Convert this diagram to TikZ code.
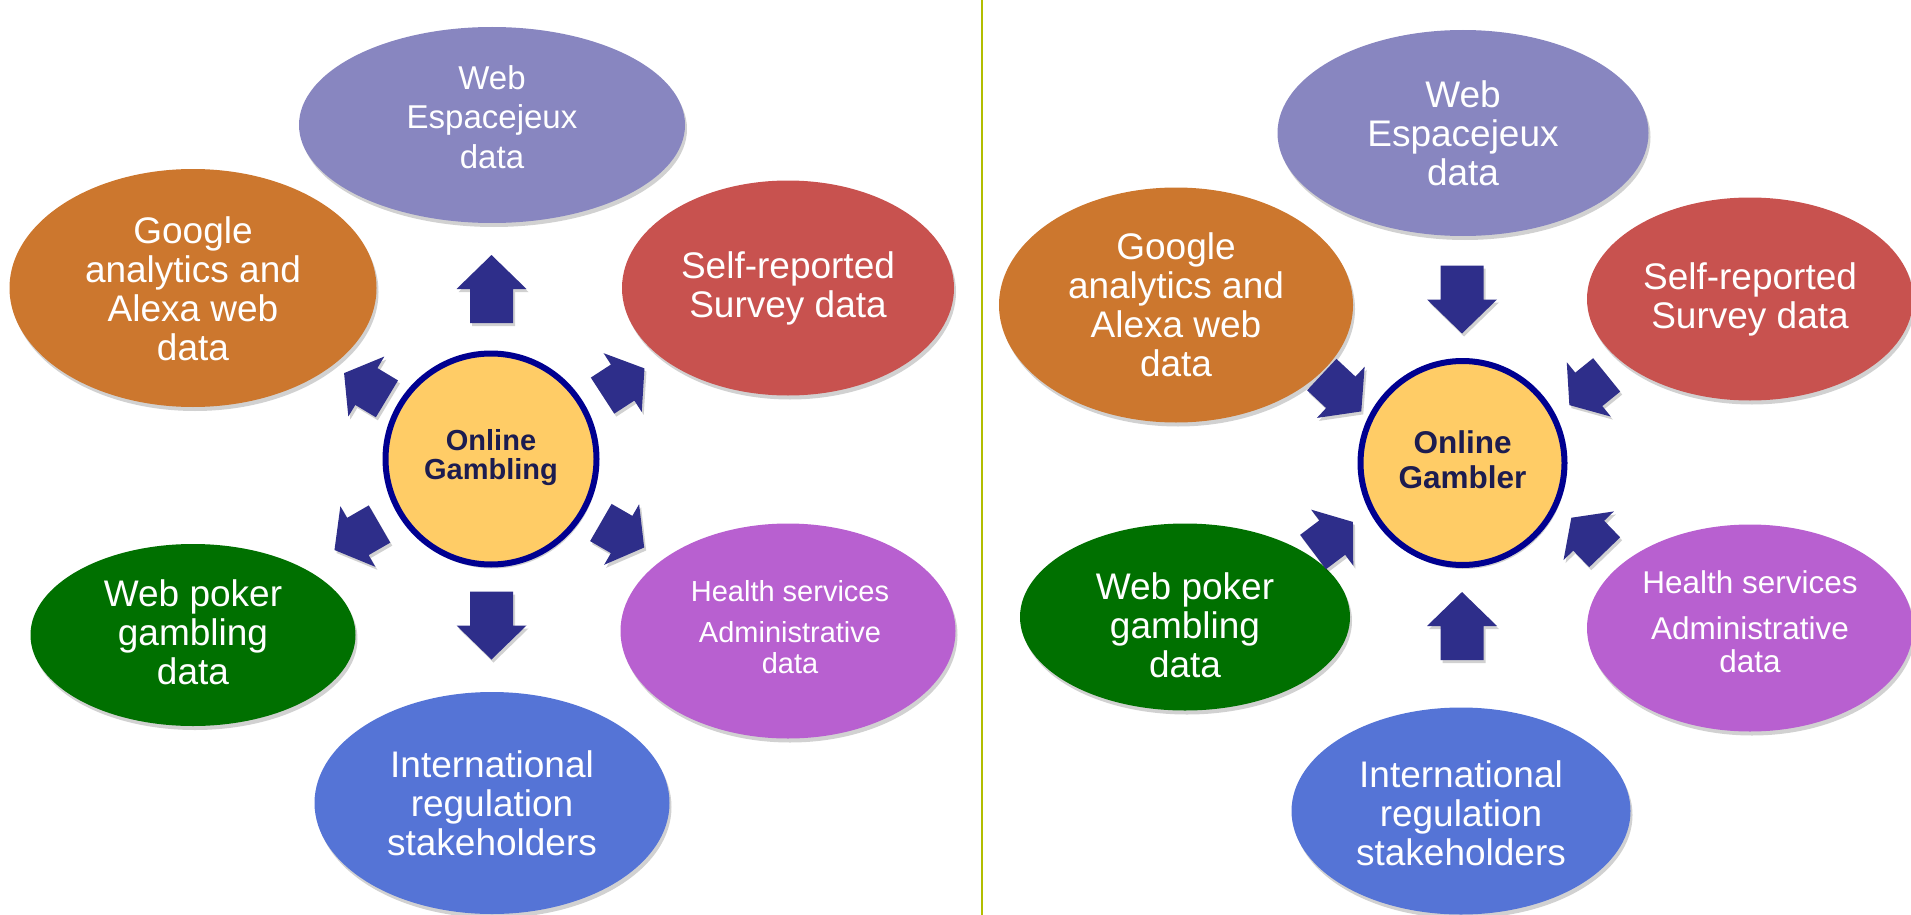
\documentclass[tikz,border=0pt]{standalone}
\usepackage{fontspec}
\setmainfont{Liberation Sans}
\usetikzlibrary{shapes.geometric,shadows}
\definecolor{cweb}{RGB}{136,134,192}
\definecolor{cgoo}{RGB}{204,119,46}
\definecolor{cself}{RGB}{200,82,79}
\definecolor{cpok}{RGB}{0,112,0}
\definecolor{chea}{RGB}{184,96,208}
\definecolor{cint}{RGB}{85,116,214}
\definecolor{ccen}{RGB}{255,204,102}
\definecolor{cbord}{RGB}{0,0,144}
\definecolor{carr}{RGB}{46,46,138}
\definecolor{ctxt}{RGB}{28,28,80}
\definecolor{cdiv}{RGB}{178,190,0}
\tikzset{
  blob/.style={ellipse, inner sep=0pt, draw=none,
    drop shadow={shadow xshift=2pt, shadow yshift=-4pt, opacity=0.18, fill=black}},
  wtxt/.style={text=white, align=center, inner sep=0pt, font=\fontsize{37}{39}\selectfont},
  hub/.style={circle, fill=ccen, draw=cbord, line width=6pt, inner sep=0pt,
    drop shadow={shadow xshift=2pt, shadow yshift=-4pt, opacity=0.18, fill=black}},
  hubtxt/.style={text=ctxt, align=center, inner sep=0pt},
  arrfill/.style={fill=carr,
    drop shadow={shadow xshift=2pt, shadow yshift=-3pt, opacity=0.18, fill=black}},
}
% straight block arrow: x, y (px, downwards), angle, back offset, head-base offset, tip offset
\newcommand\blockarr[6]{%
  \fill[arrfill, shift={(#1,-#2)}, rotate=#3]
    (#4,-21.5) -- (#5,-21.5) -- (#5,-35) -- (#6,0) -- (#5,35) -- (#5,21.5) -- (#4,21.5) -- cycle;}
\begin{document}
\begin{tikzpicture}[x=1pt,y=1pt]
\useasboundingbox (0,0) rectangle (1911,-915);
% divider
\coordinate (dtop) at (982,0);
\coordinate (dbot) at (982,-915);
\draw[cdiv, line width=2pt] (dtop) -- (dbot);

% ===== Left diagram =====
\node[blob, fill=cweb, minimum width=386, minimum height=196] (lweb) at (492,-125) {};
\node[wtxt, font=\fontsize{33}{39.5}\selectfont] (lwebt) at (492,-117) {Web\\Espacejeux\\data};
\node[blob, fill=cgoo, minimum width=367, minimum height=238] (lgoo) at (193,-288) {};
\node[wtxt] (lgoot) at (193,-289) {Google\\analytics and\\Alexa web\\data};
\node[blob, fill=cself, minimum width=332, minimum height=215] (lself) at (788,-288) {};
\node[wtxt] (lselft) at (788,-288) {Self-reported\\Survey data};
\node[blob, fill=cpok, minimum width=325, minimum height=182] (lpok) at (193,-635) {};
\node[wtxt] (lpokt) at (193,-632) {Web poker\\gambling\\data};
\node[blob, fill=chea, minimum width=335, minimum height=215] (lhea) at (788,-631) {};
\node[wtxt, font=\fontsize{29}{31}\selectfont] (lheat) at (790,-627) {Health services\\[10pt]Administrative\\data};
\node[blob, fill=cint, minimum width=355, minimum height=222] (lint) at (492,-803) {};
\node[wtxt] (lintt) at (492,-803) {International\\regulation\\stakeholders};

\node[hub, minimum size=211] (lhub) at (491,-459) {};
\node[hubtxt, font=\bfseries\fontsize{29}{29}\selectfont] (lhubt) at (491,-458) {Online\\Gambling};

\blockarr{491.5}{289}{90}{-34}{0}{34}
\blockarr{491.5}{625.5}{270}{-34}{0}{34}
\blockarr{365.5}{386}{149}{-25}{-1}{25}
\blockarr{623.5}{382}{33}{-25}{-1}{25}
\blockarr{357}{537}{210}{-26}{-1}{26}
\blockarr{622.5}{535}{330}{-25}{-1}{25}

% ===== Right diagram =====
\node[blob, fill=cweb, minimum width=371, minimum height=206] (rweb) at (1463,-133) {};
\node[wtxt] (rwebt) at (1463,-133) {Web\\Espacejeux\\data};
\node[blob, fill=cgoo, minimum width=354, minimum height=235] (rgoo) at (1176,-305) {};
\node[wtxt] (rgoot) at (1176,-305) {Google\\analytics and\\Alexa web\\data};
\node[blob, fill=cself, minimum width=326, minimum height=203] (rself) at (1750,-299) {};
\node[wtxt] (rselft) at (1750,-299) {Self-reported\\Survey data};
\node[blob, fill=cpok, minimum width=330, minimum height=187] (rpok) at (1185,-617) {};
\node[wtxt] (rpokt) at (1185,-625) {Web poker\\gambling\\data};
\node[blob, fill=chea, minimum width=326, minimum height=207] (rhea) at (1750,-628) {};
\node[wtxt, font=\fontsize{31.5}{33}\selectfont] (rheat) at (1750,-622) {Health services\\[13pt]Administrative\\data};
\node[blob, fill=cint, minimum width=339, minimum height=207] (rint) at (1461,-811) {};
\node[wtxt] (rintt) at (1461,-813) {International\\regulation\\stakeholders};

\node[hub, minimum size=204] (rhub) at (1462.5,-463) {};
\node[hubtxt, font=\bfseries\fontsize{31.5}{35}\selectfont] (rhubt) at (1462.5,-460) {Online\\Gambler};

\blockarr{1462}{299.5}{270}{-34}{0}{34}
\blockarr{1462}{626}{90}{-34}{0}{34}
\blockarr{1341.5}{393}{-43}{-27}{-1}{27}
\blockarr{1588}{390}{219}{-24}{-1}{24}
\blockarr{1333}{537}{37}{-25}{-1}{25}
\blockarr{1588}{535}{134}{-24}{-1}{24}
\end{tikzpicture}
\end{document}
